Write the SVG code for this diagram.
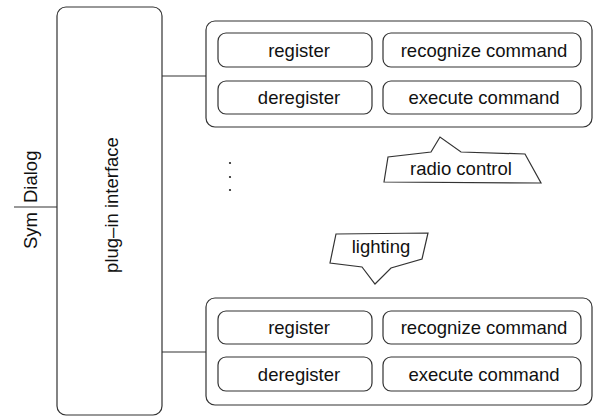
<svg xmlns="http://www.w3.org/2000/svg" width="594" height="417" viewBox="0 0 594 417">
<style>
.box{fill:#fff;stroke:#333;stroke-width:1.2}
.ln{fill:none;stroke:#333;stroke-width:1.2}
text{font-family:"Liberation Sans",Arial,sans-serif;font-size:18.5px;fill:#111}
.c{text-anchor:middle}
</style>
<rect width="594" height="417" fill="#fff"/>
<g id="connectors">
<line class="ln" x1="14" y1="207" x2="57" y2="207"/>
<line class="ln" x1="162" y1="76" x2="206" y2="76"/>
<line class="ln" x1="162" y1="352" x2="206" y2="352"/>
</g>
<g id="symdialog">
<text transform="translate(37,212) rotate(-90)" text-anchor="end">Sym</text>
<text transform="translate(37,203) rotate(-90)" text-anchor="start">Dialog</text>
</g>
<g id="plugin">
<rect class="box" x="57" y="7" width="105" height="408" rx="9"/>
<text class="c" transform="translate(118,205) rotate(-90)">plug–in interface</text>
</g>
<g id="module1">
<rect class="box" x="206" y="21" width="386" height="106" rx="9"/>
<g id="m1-register"><rect class="box" x="218" y="33" width="154" height="34" rx="8"/><text class="c" x="299" y="57">register</text></g>
<g id="m1-recognize"><rect class="box" x="383" y="33" width="198" height="34" rx="8"/><text class="c" x="484" y="57">recognize command</text></g>
<g id="m1-deregister"><rect class="box" x="218" y="81" width="154" height="33" rx="8"/><text class="c" x="299" y="104">deregister</text></g>
<g id="m1-execute"><rect class="box" x="383" y="81" width="198" height="33" rx="8"/><text class="c" x="484" y="104">execute command</text></g>
</g>
<g id="radio">
<polygon class="box" points="384,182 388,157 431,152 440,137 461,152 525,154 541,183"/>
<text class="c" x="461" y="175">radio control</text>
</g>
<g id="dots" fill="#222">
<circle cx="230" cy="163" r="1.1"/>
<circle cx="230" cy="177" r="1.1"/>
<circle cx="230" cy="190" r="1.1"/>
</g>
<g id="lighting">
<polygon class="box" points="336,234 428,233 422,259 391,268 375,284 362,267 330,263"/>
<text class="c" x="381" y="253">lighting</text>
</g>
<g id="module2">
<rect class="box" x="206" y="298" width="386" height="107" rx="9"/>
<g id="m2-register"><rect class="box" x="218" y="311" width="154" height="33" rx="8"/><text class="c" x="299" y="334">register</text></g>
<g id="m2-recognize"><rect class="box" x="383" y="311" width="198" height="33" rx="8"/><text class="c" x="484" y="334">recognize command</text></g>
<g id="m2-deregister"><rect class="box" x="218" y="357" width="154" height="34" rx="8"/><text class="c" x="299" y="381">deregister</text></g>
<g id="m2-execute"><rect class="box" x="383" y="357" width="198" height="34" rx="8"/><text class="c" x="484" y="381">execute command</text></g>
</g>
</svg>
